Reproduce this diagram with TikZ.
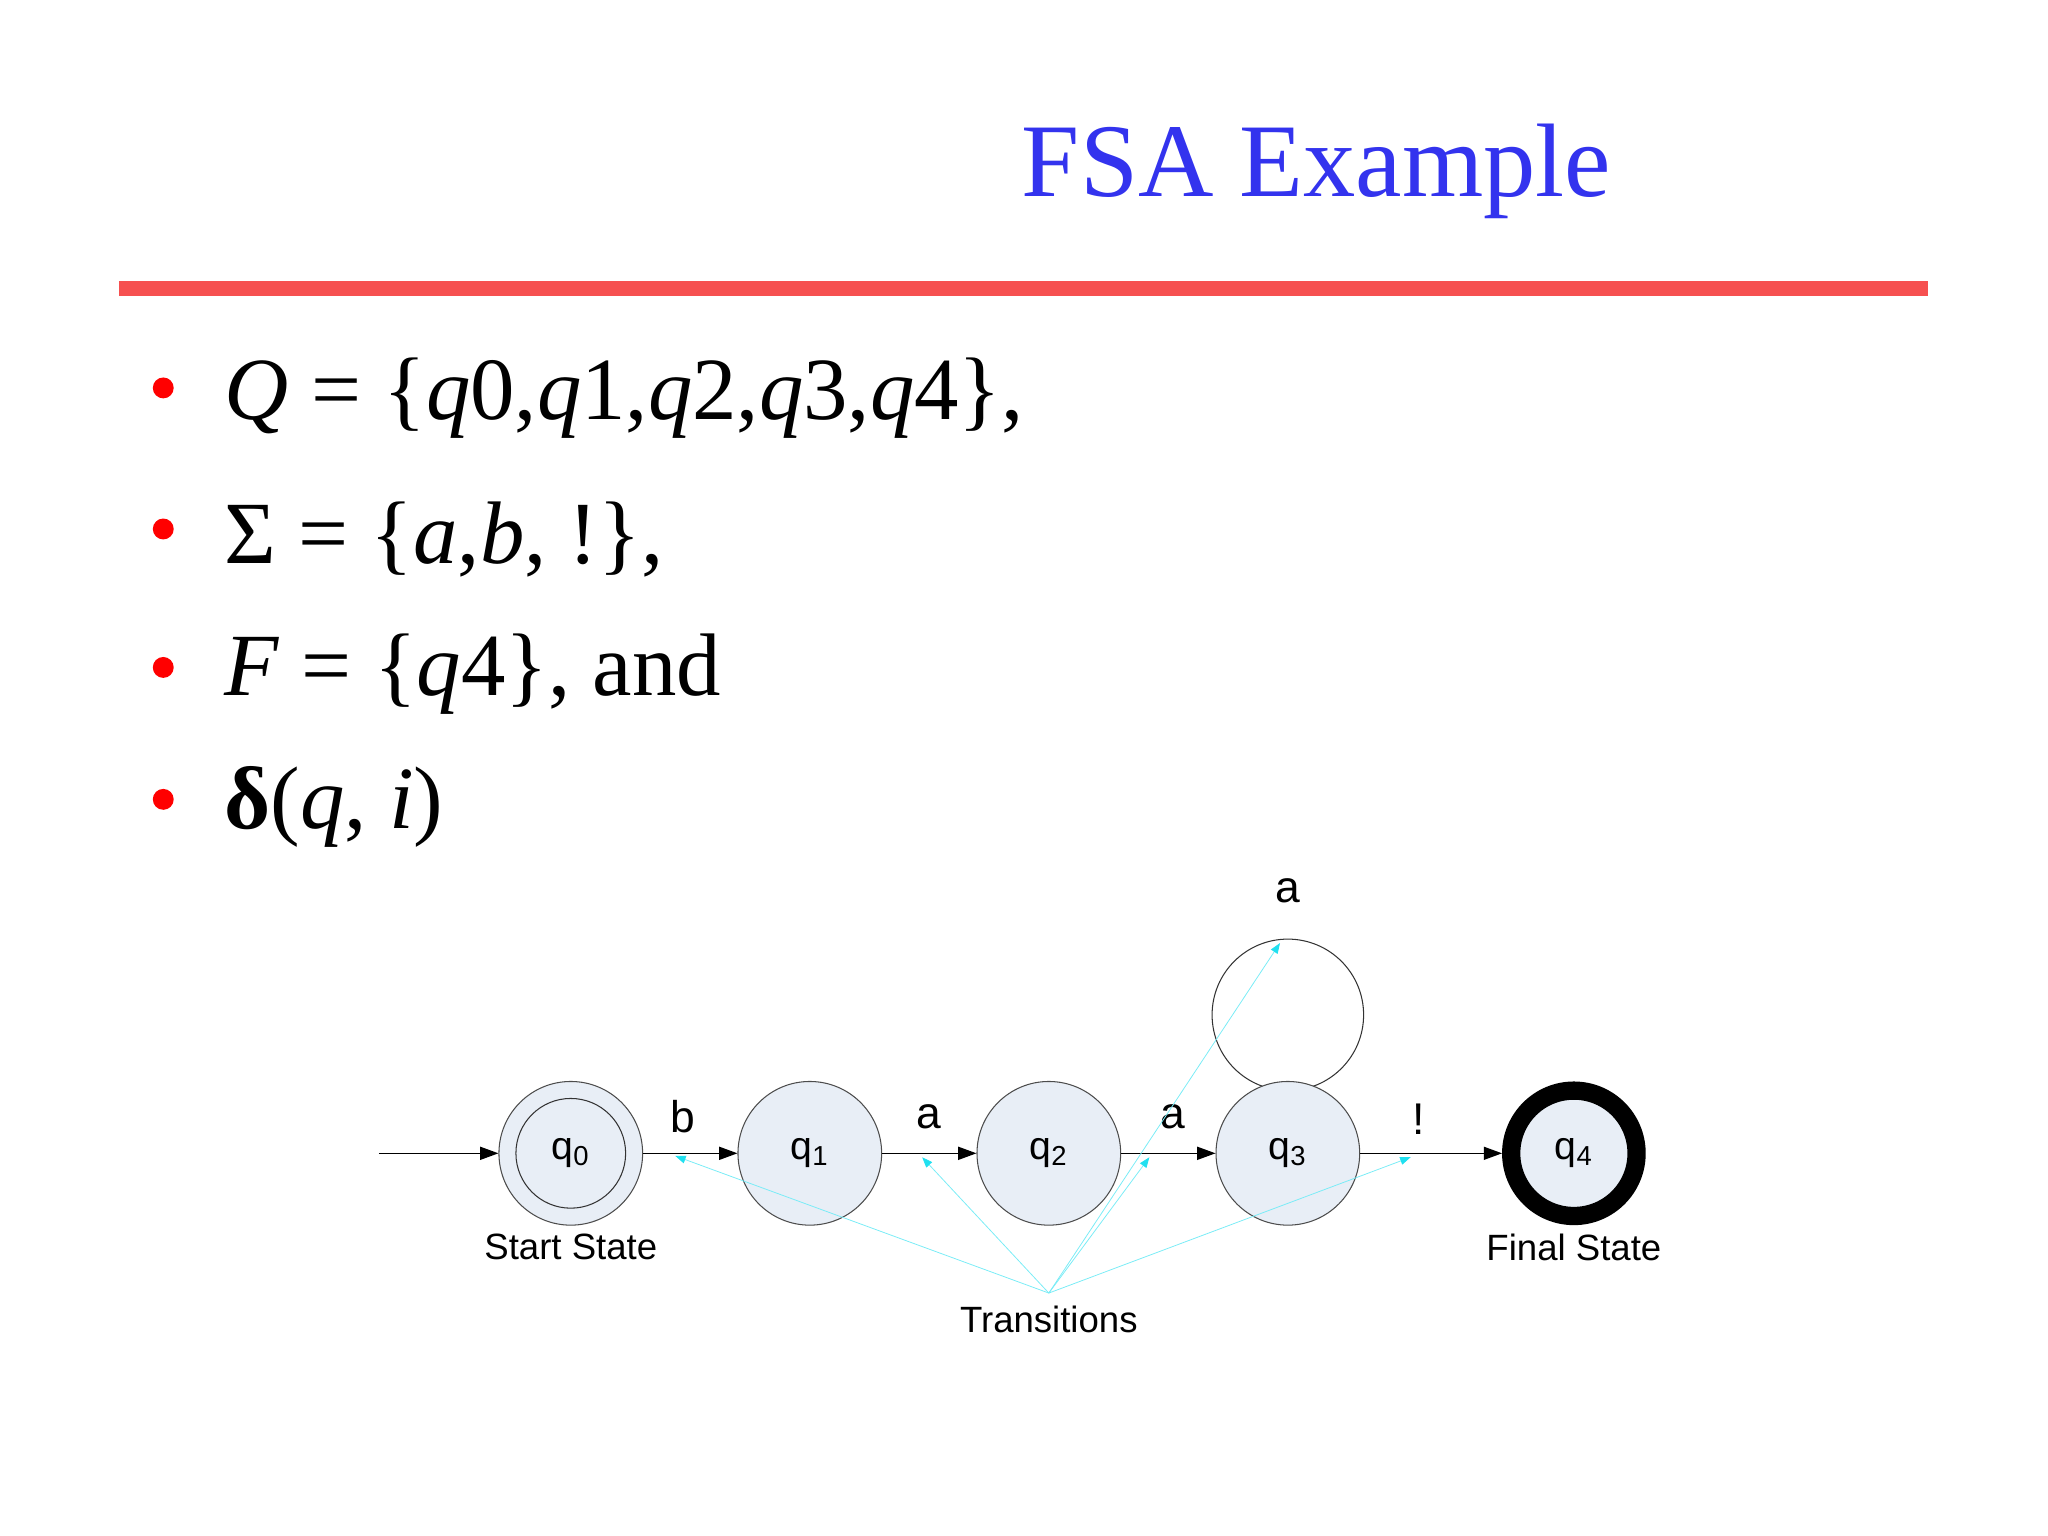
\documentclass[tikz,border=0pt]{standalone}
\usepackage{fontspec}
\setmainfont{Liberation Serif}
\newfontfamily\arial{Liberation Sans}
\usetikzlibrary{arrows.meta}
\definecolor{titleblue}{HTML}{3333EE}
\definecolor{redline}{HTML}{F65050}
\definecolor{stfill}{HTML}{E8EEF6}
\definecolor{cy}{HTML}{20E0F0}
\tikzset{
  state/.style={circle,draw=black!70,fill=stfill,minimum size=55pt,inner sep=0pt,font=\arial\fontsize{15}{15}\selectfont},
  lbl/.style={font=\arial\fontsize{14}{14}\selectfont},
  elbl/.style={font=\arial\fontsize{17}{17}\selectfont},
  bul/.style={anchor=west,font=\fontsize{34}{34}\selectfont},
  dot/.style={circle,fill=red,inner sep=0pt,minimum size=8pt},
  tr/.style={-{Triangle[length=7pt,width=5pt]},line width=0.5pt},
  cl/.style={cy!60,line width=0.3pt,-{Triangle[length=4pt,width=3pt,fill=cy,color=cy]}}
}
\begin{document}
\begin{tikzpicture}[x=0.5pt,y=-0.5pt]
\useasboundingbox (0,0) rectangle (1568,1176);
\node[titleblue,font=\fontsize{40}{40}\selectfont] (title) at (1008,131) {FSA Example};
\draw[redline,line width=6pt] (91,221) -- (1476,221);
\foreach \y/\n in {297/1,405/2,511/3,612/4} \node[dot] (d\n) at (125,\y) {};
\node[bul] (b1) at (165,305) {\textit{Q} = \{\textit{q}0,\textit{q}1,\textit{q}2,\textit{q}3,\textit{q}4\},};
\node[bul] (b2) at (165,413) {Σ = \{\textit{a},\textit{b}, !\},};
\node[bul] (b3) at (165,516) {\textit{F} = \{\textit{q}4\}, and};
\node[bul] (b4) at (165,618) {\textbf{δ}(\textit{q}, \textit{i})};
% loop behind q3
\node[circle,draw=black!80,minimum size=58pt,inner sep=0pt] (loop) at (986,777) {};
% states
\node[state] (q0) at (437,883) {};
\node[circle,draw=black!80,minimum size=42pt,inner sep=0pt,font=\arial\fontsize{15}{15}\selectfont] (q0i) at (437,883) {q\textsubscript{0}};
\node[state] (q1) at (620,883) {q\textsubscript{1}};
\node[state] (q2) at (803,883) {q\textsubscript{2}};
\node[state] (q3) at (986,883) {q\textsubscript{3}};
\node[state,draw=black,line width=7pt,minimum size=48pt] (q4) at (1205,883) {q\textsubscript{4}};
\coordinate (start) at (290,883);
\draw[tr] (start) -- (q0);
\draw[tr] (q0) -- (q1);
\draw[tr] (q1) -- (q2);
\draw[tr] (q2) -- (q3);
\draw[tr] (q3) -- (q4);
\node[elbl] (lb) at (523,855) {b};
\node[elbl] (la1) at (711,855) {a};
\node[elbl] (la2) at (898,855) {a};
\node[elbl] (lx) at (1086,857) {!};
\node[elbl] (la3) at (986,682) {a};
\node[lbl] (ss) at (437,955) {Start State};
\node[lbl] (fs) at (1205,955) {Final State};
\node[lbl] (trn) at (803,1010) {Transitions};
\coordinate (hub) at (803,990);
\coordinate (t1) at (517,885);
\coordinate (t2) at (706,886);
\coordinate (t3) at (880,886);
\coordinate (t4) at (1080,886);
\coordinate (t5) at (980,722);
\foreach \t in {t1,t2,t3,t4,t5} \draw[cl] (hub) -- (\t);
\end{tikzpicture}
\end{document}
